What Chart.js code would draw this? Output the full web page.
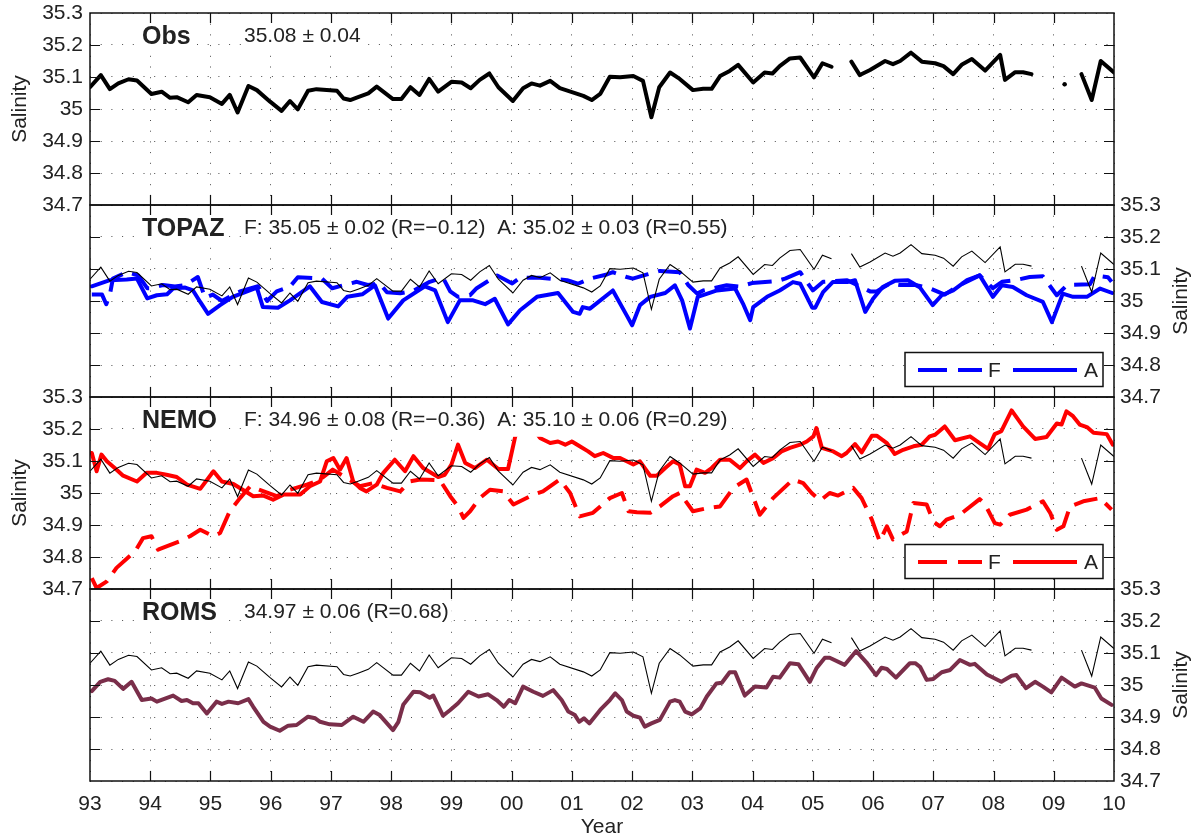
<!DOCTYPE html>
<html><head><meta charset="utf-8">
<script src="https://cdn.jsdelivr.net/npm/chart.js@4.4.1/dist/chart.umd.min.js"></script>
<style>
html,body{margin:0;padding:0;background:#fff;overflow:hidden;width:1197px;height:833px;}
canvas{position:absolute;left:0;}
</style></head><body>
<canvas id="c0"></canvas><canvas id="c1"></canvas><canvas id="c2"></canvas><canvas id="c3"></canvas>
<script>
const FONT = '"Liberation Sans", Arial, Helvetica, sans-serif';

// ---- tick labels ----
const xTickValues = [1993,1994,1995,1996,1997,1998,1999,2000,2001,2002,2003,2004,2005,2006,2007,2008,2009,2010];
const xTickLabels = ['93','94','95','96','97','98','99','00','01','02','03','04','05','06','07','08','09','10'];
const yTickValues = [34.7,34.8,34.9,35.0,35.1,35.2,35.3];
const yTickLabels = ['34.7','34.8','34.9','35','35.1','35.2','35.3'];

// ---- data: [year, salinity] ----
const obsData = [[1993.00,35.068],[1993.18,35.106],[1993.33,35.062],[1993.47,35.080],[1993.64,35.093],[1993.78,35.089],[1994.02,35.047],[1994.19,35.054],[1994.33,35.035],[1994.44,35.037],[1994.63,35.021],[1994.77,35.044],[1994.99,35.037],[1995.19,35.016],[1995.32,35.044],[1995.45,34.989],[1995.63,35.072],[1995.77,35.059],[1995.99,35.023],[1996.18,34.994],[1996.32,35.025],[1996.45,34.999],[1996.62,35.057],[1996.76,35.062],[1997.10,35.057],[1997.21,35.033],[1997.32,35.028],[1997.45,35.037],[1997.62,35.049],[1997.76,35.070],[1998.03,35.031],[1998.17,35.031],[1998.32,35.068],[1998.47,35.044],[1998.63,35.094],[1998.78,35.054],[1999.00,35.085],[1999.17,35.083],[1999.32,35.065],[1999.47,35.091],[1999.63,35.111],[1999.78,35.068],[2000.02,35.025],[2000.19,35.065],[2000.33,35.080],[2000.47,35.073],[2000.64,35.088],[2000.80,35.065],[2001.19,35.041],[2001.33,35.028],[2001.47,35.047],[2001.63,35.101],[2001.80,35.099],[2002.02,35.103],[2002.18,35.088],[2002.32,34.974],[2002.45,35.068],[2002.63,35.114],[2002.79,35.094],[2003.01,35.059],[2003.18,35.063],[2003.32,35.063],[2003.46,35.103],[2003.62,35.119],[2003.76,35.138],[2004.01,35.083],[2004.20,35.114],[2004.33,35.111],[2004.45,35.134],[2004.62,35.158],[2004.79,35.161],[2005.02,35.099],[2005.16,35.143],[2005.31,35.132],[2005.48,null],[2005.64,35.148],[2005.78,35.106],[2005.95,35.122],[2006.20,35.150],[2006.33,35.140],[2006.45,35.150],[2006.63,35.176],[2006.81,35.148],[2007.03,35.143],[2007.17,35.134],[2007.33,35.109],[2007.47,35.138],[2007.64,35.156],[2007.86,35.120],[2008.11,35.169],[2008.19,35.091],[2008.36,35.115],[2008.49,35.115],[2008.63,35.109],[2008.90,null],[2009.18,35.077],[2009.32,null],[2009.46,35.109],[2009.63,35.028],[2009.78,35.150],[2010.00,35.114]];

const topazA = [[1993.03,35.046],[1993.33,35.065],[1993.61,35.067],[1993.78,35.070],[1993.95,35.008],[1994.11,35.018],[1994.28,35.021],[1994.38,35.039],[1994.58,35.042],[1994.71,35.033],[1994.83,34.997],[1994.96,34.960],[1995.16,34.987],[1995.37,35.013],[1995.77,35.042],[1995.87,34.981],[1996.12,34.979],[1996.32,35.002],[1996.65,35.046],[1996.85,34.997],[1997.12,34.983],[1997.27,35.013],[1997.52,35.021],[1997.73,35.049],[1997.95,34.945],[1998.20,35.002],[1998.56,35.046],[1998.73,35.033],[1998.94,34.934],[1999.14,35.002],[1999.36,35.002],[1999.56,34.990],[1999.72,35.007],[1999.94,34.927],[2000.14,34.971],[2000.42,35.013],[2000.77,35.025],[2001.02,34.966],[2001.13,34.960],[2001.18,34.981],[2001.30,34.976],[2001.68,35.033],[2001.91,34.955],[2002.00,34.924],[2002.13,34.987],[2002.30,35.013],[2002.55,35.025],[2002.71,35.049],[2002.83,35.002],[2002.96,34.914],[2003.09,35.013],[2003.41,35.033],[2003.71,35.039],[2003.84,34.992],[2003.96,34.940],[2004.01,34.981],[2004.24,35.013],[2004.45,35.033],[2004.67,35.059],[2004.79,35.054],[2004.99,34.979],[2005.04,34.979],[2005.17,35.028],[2005.33,35.059],[2005.57,35.059],[2005.70,35.065],[2005.87,34.966],[2006.00,35.007],[2006.16,35.044],[2006.36,35.063],[2006.58,35.065],[2006.78,35.042],[2006.99,34.987],[2007.14,35.018],[2007.33,35.033],[2007.56,35.065],[2007.77,35.080],[2007.99,35.013],[2008.14,35.049],[2008.32,35.044],[2008.55,35.018],[2008.82,34.997],[2008.97,34.934],[2009.15,35.023],[2009.32,35.013],[2009.55,35.013],[2009.77,35.039],[2009.97,35.025]];

const topazF = [[1993.03,35.020],[1993.20,35.020],[1993.27,34.990],[1993.33,35.020],[1993.38,35.070],[1993.61,35.090],[1993.80,35.080],[1993.95,35.040],[1994.03,35.040],[1994.21,35.050],[1994.41,35.045],[1994.58,35.050],[1994.79,35.075],[1994.91,35.010],[1995.04,35.020],[1995.19,35.000],[1995.49,35.030],[1995.79,35.046],[1995.94,35.000],[1996.10,35.030],[1996.32,35.045],[1996.45,35.074],[1996.85,35.070],[1997.02,35.040],[1997.43,35.060],[1997.61,35.050],[1997.81,35.055],[1997.93,35.027],[1998.15,35.024],[1998.36,35.031],[1998.64,35.060],[1998.86,35.073],[1998.98,35.030],[1999.11,35.013],[1999.31,35.018],[1999.42,35.040],[1999.59,35.060],[1999.76,35.080],[2000.01,35.055],[2000.14,35.073],[2000.47,35.073],[2000.92,35.065],[2001.10,35.054],[2001.30,35.070],[2001.58,35.083],[2001.68,35.090],[2001.91,35.075],[2002.01,35.070],[2002.25,35.083],[2002.46,35.094],[2002.79,35.090],[2002.93,35.050],[2003.08,35.023],[2003.18,35.033],[2003.57,35.049],[2003.79,35.045],[2003.99,35.056],[2004.40,35.062],[2004.54,35.070],[2004.79,35.090],[2005.00,35.033],[2005.17,35.060],[2005.57,35.065],[2005.95,35.030],[2006.06,35.030],[2006.28,35.055],[2006.45,35.050],[2006.70,35.050],[2006.94,35.040],[2007.19,35.020],[2007.44,35.050],[2007.77,35.080],[2007.99,35.040],[2008.14,35.060],[2008.36,35.065],[2008.60,35.075],[2008.82,35.077],[2009.05,35.018],[2009.22,35.050],[2009.60,35.052],[2009.68,35.080],[2009.90,35.074],[2009.96,35.060]];

const nemoA = [[1993.03,35.125],[1993.11,35.068],[1993.19,35.120],[1993.28,35.099],[1993.41,35.078],[1993.55,35.054],[1993.78,35.036],[1993.94,35.063],[1994.11,35.063],[1994.27,35.057],[1994.44,35.050],[1994.61,35.026],[1994.83,35.013],[1995.05,35.068],[1995.19,35.036],[1995.38,35.028],[1995.71,34.990],[1995.88,34.992],[1996.04,34.979],[1996.21,34.995],[1996.49,34.995],[1996.65,35.021],[1996.82,35.036],[1996.93,35.099],[1997.04,35.109],[1997.15,35.073],[1997.26,35.109],[1997.37,35.036],[1997.48,35.016],[1997.59,35.005],[1997.76,35.026],[1997.87,35.063],[1998.06,35.104],[1998.23,35.068],[1998.37,35.115],[1998.53,35.078],[1998.78,35.050],[1998.89,35.057],[1999.00,35.089],[1999.11,35.151],[1999.23,35.094],[1999.39,35.078],[1999.59,35.104],[1999.78,35.075],[1999.94,35.075],[2000.06,35.177],[2000.25,35.230],[2000.47,35.172],[2000.64,35.156],[2000.77,35.161],[2000.89,35.151],[2001.00,35.161],[2001.13,35.146],[2001.27,35.130],[2001.38,35.115],[2001.52,35.125],[2001.69,35.109],[2001.80,35.109],[2001.91,35.099],[2002.02,35.089],[2002.13,35.099],[2002.30,35.054],[2002.41,35.054],[2002.55,35.078],[2002.68,35.099],[2002.79,35.089],[2002.88,35.021],[2002.96,35.021],[2003.07,35.073],[2003.21,35.063],[2003.32,35.078],[2003.46,35.104],[2003.62,35.104],[2003.79,35.078],[2003.90,35.099],[2004.04,35.120],[2004.18,35.094],[2004.34,35.109],[2004.48,35.130],[2004.62,35.141],[2004.79,35.151],[2004.90,35.161],[2005.01,35.177],[2005.06,35.203],[2005.15,35.141],[2005.34,35.130],[2005.48,35.115],[2005.56,35.125],[2005.70,35.153],[2005.81,35.127],[2005.98,35.179],[2006.06,35.179],[2006.23,35.156],[2006.36,35.122],[2006.50,35.135],[2006.67,35.146],[2006.81,35.151],[2006.94,35.177],[2007.03,35.182],[2007.19,35.208],[2007.36,35.165],[2007.61,35.177],[2007.77,35.156],[2007.91,35.138],[2008.02,35.184],[2008.13,35.193],[2008.30,35.258],[2008.49,35.208],[2008.69,35.169],[2008.88,35.175],[2009.05,35.217],[2009.13,35.214],[2009.21,35.255],[2009.32,35.240],[2009.43,35.214],[2009.55,35.206],[2009.66,35.188],[2009.88,35.184],[2009.98,35.151]];

const nemoF = [[1993.03,34.734],[1993.11,34.703],[1993.28,34.724],[1993.44,34.766],[1993.75,34.818],[1993.88,34.859],[1994.02,34.865],[1994.13,34.823],[1994.27,34.833],[1994.49,34.849],[1994.66,34.865],[1994.83,34.885],[1995.05,34.865],[1995.16,34.875],[1995.32,34.943],[1995.49,34.984],[1995.66,35.021],[1996.10,34.990],[1996.32,35.010],[1996.60,35.026],[1996.82,35.042],[1997.03,35.073],[1997.26,35.047],[1997.48,35.021],[1997.70,35.031],[1997.93,35.016],[1998.15,35.005],[1998.31,35.036],[1998.48,35.042],[1998.81,35.040],[1998.98,34.990],[1999.11,34.958],[1999.20,34.922],[1999.31,34.943],[1999.47,34.984],[1999.64,35.010],[1999.86,35.005],[2000.03,34.964],[2000.19,34.979],[2000.36,34.995],[2000.52,35.005],[2000.80,35.042],[2000.97,35.000],[2001.13,34.927],[2001.35,34.938],[2001.63,34.984],[2001.83,35.000],[2001.94,34.943],[2002.08,34.940],[2002.30,34.938],[2002.46,34.958],[2002.68,34.990],[2002.79,35.000],[2003.01,34.943],[2003.26,34.953],[2003.46,34.958],[2003.68,35.016],[2003.90,35.042],[2004.12,34.932],[2004.34,34.984],[2004.67,35.042],[2004.84,35.031],[2004.98,35.000],[2005.12,34.976],[2005.28,35.000],[2005.42,34.992],[2005.67,35.016],[2005.81,34.984],[2005.98,34.917],[2006.11,34.849],[2006.23,34.896],[2006.33,34.855],[2006.56,34.880],[2006.67,34.969],[2006.89,34.964],[2007.00,34.911],[2007.11,34.896],[2007.22,34.917],[2007.44,34.932],[2007.77,34.981],[2007.86,34.964],[2008.02,34.906],[2008.11,34.901],[2008.27,34.932],[2008.55,34.948],[2008.82,34.974],[2008.94,34.938],[2009.05,34.885],[2009.16,34.896],[2009.27,34.958],[2009.49,34.974],[2009.77,34.984],[2009.96,34.948]];

const romsData = [[1993.03,34.981],[1993.17,35.010],[1993.30,35.018],[1993.41,35.013],[1993.55,34.988],[1993.69,35.010],[1993.86,34.953],[1994.02,34.958],[1994.11,34.948],[1994.38,34.967],[1994.52,34.950],[1994.61,34.953],[1994.71,34.943],[1994.80,34.943],[1994.94,34.911],[1995.10,34.948],[1995.19,34.941],[1995.30,34.948],[1995.46,34.943],[1995.63,34.956],[1995.71,34.932],[1995.88,34.885],[1995.99,34.870],[1996.15,34.857],[1996.29,34.873],[1996.43,34.875],[1996.62,34.901],[1996.74,34.896],[1996.82,34.885],[1996.98,34.877],[1997.18,34.875],[1997.37,34.901],[1997.54,34.885],[1997.70,34.917],[1997.81,34.906],[1998.03,34.859],[1998.12,34.885],[1998.20,34.938],[1998.37,34.979],[1998.48,34.977],[1998.64,34.960],[1998.70,34.967],[1998.86,34.904],[1998.98,34.922],[1999.11,34.943],[1999.28,34.979],[1999.45,34.964],[1999.61,34.971],[1999.75,34.953],[1999.87,34.932],[1999.96,34.953],[2000.06,34.943],[2000.19,34.995],[2000.36,34.979],[2000.52,34.966],[2000.69,34.984],[2000.83,34.953],[2000.94,34.917],[2001.05,34.906],[2001.12,34.885],[2001.20,34.896],[2001.29,34.880],[2001.47,34.922],[2001.63,34.953],[2001.72,34.974],[2001.83,34.953],[2001.91,34.917],[2002.02,34.904],[2002.13,34.898],[2002.21,34.870],[2002.32,34.880],[2002.46,34.891],[2002.63,34.948],[2002.71,34.953],[2002.79,34.948],[2002.88,34.917],[2002.99,34.908],[2003.13,34.927],[2003.24,34.964],[2003.40,35.005],[2003.49,35.007],[2003.62,35.040],[2003.71,35.040],[2003.87,34.967],[2004.04,34.995],[2004.23,34.992],[2004.34,35.026],[2004.45,35.023],[2004.62,35.068],[2004.76,35.065],[2004.95,35.010],[2005.06,35.052],[2005.20,35.085],[2005.28,35.085],[2005.53,35.063],[2005.72,35.106],[2005.89,35.071],[2006.05,35.031],[2006.14,35.054],[2006.23,35.050],[2006.38,35.023],[2006.61,35.068],[2006.70,35.068],[2006.78,35.057],[2006.89,35.016],[2007.00,35.019],[2007.14,35.040],[2007.28,35.047],[2007.44,35.078],[2007.61,35.063],[2007.69,35.066],[2007.89,35.033],[2008.13,35.010],[2008.30,35.029],[2008.38,35.031],[2008.54,34.990],[2008.69,35.010],[2008.82,34.995],[2008.96,34.977],[2009.13,35.023],[2009.35,34.995],[2009.46,35.005],[2009.68,34.992],[2009.79,34.958],[2009.96,34.938]];

// ---- panel texts ----
const panelNames = ['Obs','TOPAZ','NEMO','ROMS'];
const panelStats = ['35.08 ± 0.04',
  'F: 35.05 ± 0.02 (R=\u22120.12)  A: 35.02 ± 0.03 (R=0.55)',
  'F: 34.96 ± 0.08 (R=\u22120.36)  A: 35.10 ± 0.06 (R=0.29)',
  '34.97 ± 0.06 (R=0.68)'];
const legendLabels = ['F','A'];

const BLUE = '#0000ff', RED = '#ff0000', MAROON = '#7a2e4a';
const toXY = arr => arr.map(p => ({x: p[0], y: p[1]}));

function obsThin() {
  return {data: toXY(obsData), borderColor:'#000', borderWidth:1.1, pointRadius:0, clip:0};
}

const isolated = ctx => {
  const d = ctx.dataset.data, i = ctx.dataIndex;
  if (d[i].y == null) return 0;
  const p = d[i-1], n = d[i+1];
  return (p && p.y == null && n && n.y == null) ? 2.2 : 0;
};

const DASH = [24, 10];
const panelSets = [
  [{data: toXY(obsData), borderColor:'#000', borderWidth:4, pointRadius:isolated, pointBackgroundColor:'#000', pointBorderWidth:0, clip:0, borderJoinStyle:'round', borderCapStyle:'round'}],
  [obsThin(),
   {data: toXY(topazA), borderColor:BLUE, borderWidth:4, pointRadius:0, clip:0, borderJoinStyle:'round', borderCapStyle:'round'},
   {data: toXY(topazF), borderColor:BLUE, borderWidth:4, borderDash:DASH, pointRadius:0, clip:0, borderJoinStyle:'round'}],
  [obsThin(),
   {data: toXY(nemoA), borderColor:RED, borderWidth:4, pointRadius:0, clip:0, borderJoinStyle:'round', borderCapStyle:'round'},
   {data: toXY(nemoF), borderColor:RED, borderWidth:4, borderDash:DASH, pointRadius:0, clip:0, borderJoinStyle:'round'}],
  [obsThin(),
   {data: toXY(romsData), borderColor:MAROON, borderWidth:4, pointRadius:0, clip:0, borderJoinStyle:'round', borderCapStyle:'round'}]
];

const sides = ['left','right','left','right'];
const legendColors = [null, BLUE, RED, null];

const PANEL_TOPS = [13,205,397,589];
const PANEL_H = 192;
const PAD = 28;

const deco = {
  id: 'deco',
  afterDatasetsDraw(chart, args, o) {
    const ctx = chart.ctx, a = chart.chartArea;
    const xs = chart.scales.x, ys = chart.scales.y;
    ctx.save();
    const nameBase = a.top + 31, statBase = a.top + 29.3;
    ctx.fillStyle = '#fff';
    ctx.font = `bold 25px ${FONT}`;
    const nw = ctx.measureText(o.name).width;
    ctx.fillRect(139, nameBase - 25, nw + 6, 33);
    ctx.font = `21px ${FONT}`;
    const sw = ctx.measureText(o.stats).width;
    ctx.fillRect(241, statBase - 24, sw + 6, 34.5);
    if (o.legendColor) {
      const bx = 905, by = a.top + 147.5, bw = 198, bh = 34;
      ctx.fillStyle = '#fff';
      ctx.fillRect(bx, by, bw, bh);
      ctx.strokeStyle = '#111'; ctx.lineWidth = 1.5;
      ctx.strokeRect(bx, by, bw, bh);
      const ly = by + 17.5;
      ctx.strokeStyle = o.legendColor; ctx.lineWidth = 4; ctx.lineCap = 'butt';
      ctx.setLineDash([29, 11]);
      ctx.beginPath(); ctx.moveTo(918, ly); ctx.lineTo(982, ly); ctx.stroke();
      ctx.setLineDash([]);
      ctx.beginPath(); ctx.moveTo(1013, ly); ctx.lineTo(1077, ly); ctx.stroke();
      ctx.fillStyle = '#222'; ctx.font = `21px ${FONT}`; ctx.textBaseline = 'alphabetic'; ctx.textAlign = 'left';
      ctx.fillText(legendLabels[0], 988, by + 24.3);
      ctx.fillText(legendLabels[1], 1084, by + 24.3);
    }
    ctx.strokeStyle = '#111'; ctx.lineWidth = 1.5; ctx.setLineDash([]);
    ctx.strokeRect(a.left, a.top, a.right - a.left, a.bottom - a.top);
    ctx.lineWidth = 1.2;
    ctx.beginPath();
    xs.ticks.forEach(t => {
      if (t.value <= xs.min || t.value >= xs.max) return;
      const px = Math.round(xs.getPixelForValue(t.value)) + 0.5;
      ctx.moveTo(px, a.top); ctx.lineTo(px, a.top + 10);
      ctx.moveTo(px, a.bottom); ctx.lineTo(px, a.bottom - 10);
    });
    ys.ticks.forEach(t => {
      if (t.value <= ys.min + 1e-6 || t.value >= ys.max - 1e-6) return;
      const py = Math.round(ys.getPixelForValue(t.value)) + 0.5;
      ctx.moveTo(a.left, py); ctx.lineTo(a.left + 10, py);
      ctx.moveTo(a.right, py); ctx.lineTo(a.right - 10, py);
    });
    ctx.stroke();
    ctx.fillStyle = '#222'; ctx.textAlign = 'left'; ctx.textBaseline = 'alphabetic';
    ctx.font = `bold 25px ${FONT}`;
    ctx.fillText(o.name, 142, nameBase);
    ctx.font = `21px ${FONT}`;
    ctx.fillText(o.stats, 244, statBase);
    if (o.rightTitle) {
      ctx.save();
      ctx.translate(1181, (a.top + a.bottom) / 2);
      ctx.rotate(-Math.PI / 2);
      ctx.textAlign = 'center'; ctx.textBaseline = 'middle';
      ctx.font = `21px ${FONT}`;
      ctx.fillStyle = '#222';
      ctx.fillText('Salinity', 0, 0);
      ctx.restore();
    }
    ctx.restore();
  }
};

function makePanel(i) {
  const isBottom = i === 3;
  const left = sides[i] === 'left';
  const bottomExtra = isBottom ? 68 : PAD;
  const h = PAD + PANEL_H + bottomExtra;
  const cv = document.getElementById('c' + i);
  cv.width = 1197; cv.height = h;
  cv.style.top = (PANEL_TOPS[i] - PAD) + 'px';
  cv.style.width = '1197px'; cv.style.height = h + 'px';
  const gridCol = 'rgba(0,0,0,0.7)';
  new Chart(cv, {
    type: 'line',
    data: {datasets: panelSets[i]},
    options: {
      responsive: false, animation: false, devicePixelRatio: 1,
      layout: {padding: {left: left ? 0 : 90, right: left ? 83 : 0, top: PAD, bottom: isBottom ? 0 : bottomExtra}},
      plugins: {
        legend: {display: false}, tooltip: {enabled: false},
        deco: {name: panelNames[i], stats: panelStats[i], legendColor: legendColors[i], rightTitle: !left}
      },
      elements: {line: {tension: 0}, point: {radius: 0}},
      scales: {
        x: {
          type: 'linear', min: 1993, max: 2010,
          afterBuildTicks: s => { s.ticks = xTickValues.map(v => ({value: v})); },
          ticks: {display: isBottom, padding: 10.5, maxRotation: 0, minRotation: 0, autoSkip: false,
                  font: {family: FONT, size: 21}, color: '#222',
                  callback: (v, idx) => xTickLabels[idx]},
          grid: {color: gridCol, lineWidth: 1, drawTicks: false, borderDash: [1, 9.7]},
          border: {display: false, dash: [1, 9.7]},
          title: {display: isBottom, text: 'Year', color: '#222', font: {family: FONT, size: 21}, padding: {top: 0, bottom: 9.5}},
          afterFit: s => { s.height = isBottom ? 68 : 0; }
        },
        y: {
          type: 'linear', min: 34.7, max: 35.3, position: sides[i],
          afterBuildTicks: s => { s.ticks = yTickValues.map(v => ({value: v})); },
          ticks: {padding: left ? 7 : 6, font: {family: FONT, size: 21}, color: '#222',
                  callback: (v, idx) => yTickLabels[idx]},
          grid: {color: gridCol, lineWidth: 1, drawTicks: false, borderDash: [1, 9.7]},
          border: {display: false, dash: [1, 9.7]},
          title: {display: left, text: 'Salinity', color: '#222', font: {family: FONT, size: 21}, padding: {top: 8, bottom: 0}},
          afterFit: s => { s.width = left ? 90 : 83; }
        }
      }
    },
    plugins: [deco]
  });
}
[0,1,2,3].forEach(makePanel);
</script>
</body></html>
